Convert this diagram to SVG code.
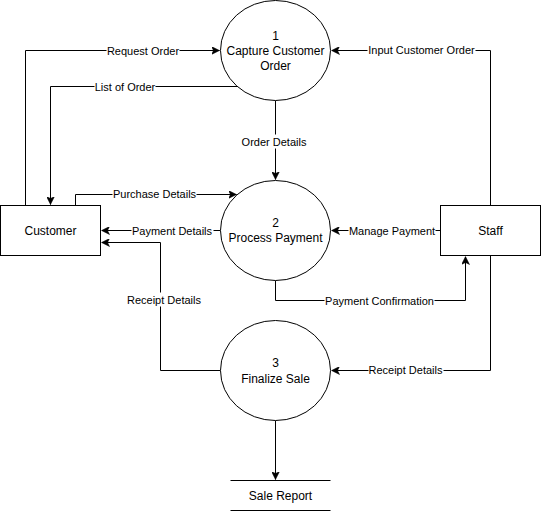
<svg xmlns="http://www.w3.org/2000/svg" width="541" height="511" viewBox="0 0 541 511">
<defs>
<style>
.shape{fill:#fff;stroke:#000;stroke-width:1}
.edge{fill:none;stroke:#000;stroke-width:1}
.nt{font-family:"Liberation Sans",Arial,sans-serif;font-size:12px;fill:#000;text-anchor:middle}
.et{font-family:"Liberation Sans",Arial,sans-serif;font-size:11px;fill:#000;text-anchor:middle}
.lb{fill:#fff;stroke:none}
</style>
<marker id="arr" markerUnits="userSpaceOnUse" viewBox="0 0 8 8" markerWidth="8" markerHeight="8" refX="8" refY="4" orient="auto">
<path d="M0,0 L8,4 L0,8 L2,4 z" fill="#000" stroke="#000" stroke-width="0.5"/>
</marker>
</defs>
<rect width="541" height="511" fill="#fff"/>
<g transform="translate(0.5,0.5)">
<g id="connectors">
<path class="edge" d="M25,205 L25,50 L219,50" marker-end="url(#arr)"/>
<path class="edge" d="M237,86 L50,86 L50,204" marker-end="url(#arr)"/>
<path class="edge" d="M75,205 L75,194 L236,194" marker-end="url(#arr)"/>
<path class="edge" d="M220,230 L101,230" marker-end="url(#arr)"/>
<path class="edge" d="M220,370 L160,370 L160,242 L101,242" marker-end="url(#arr)"/>
<path class="edge" d="M275,100 L275,179" marker-end="url(#arr)"/>
<path class="edge" d="M490,205 L490,50 L331,50" marker-end="url(#arr)"/>
<path class="edge" d="M440,230 L331,230" marker-end="url(#arr)"/>
<path class="edge" d="M275,280 L275,300 L465,300 L465,256" marker-end="url(#arr)"/>
<path class="edge" d="M490,255 L490,370 L331,370" marker-end="url(#arr)"/>
<path class="edge" d="M275,420 L275,479" marker-end="url(#arr)"/>
<g id="edge-labels">
<rect class="lb" x="106" y="43" width="73" height="14"/>
<text class="et" x="142.5" y="54.5">Request Order</text>
<rect class="lb" x="94" y="79" width="61" height="14"/>
<text class="et" x="124.5" y="90">List of Order</text>
<rect class="lb" x="112" y="187" width="84" height="14"/>
<text class="et" x="154" y="197.5">Purchase Details</text>
<rect class="lb" x="131" y="223" width="82" height="14"/>
<text class="et" x="171.5" y="234">Payment Details</text>
<rect class="lb" x="126" y="292" width="75" height="14"/>
<text class="et" x="163.5" y="303">Receipt Details</text>
<rect class="lb" x="241" y="134" width="66" height="14"/>
<text class="et" x="273.5" y="145">Order Details</text>
<rect class="lb" x="367" y="42" width="108" height="14"/>
<text class="et" x="421" y="53">Input Customer Order</text>
<rect class="lb" x="348" y="223" width="87" height="14"/>
<text class="et" x="391.5" y="234">Manage Payment</text>
<rect class="lb" x="324" y="293" width="110" height="14"/>
<text class="et" x="379" y="304">Payment Confirmation</text>
<rect class="lb" x="368" y="362" width="75" height="14"/>
<text class="et" x="405" y="373">Receipt Details</text>
</g>
</g>
<g id="customer">
<rect class="shape" x="0" y="205" width="100" height="50"/>
<text class="nt" x="50" y="234">Customer</text>
</g>
<g id="staff">
<rect class="shape" x="440" y="205" width="100" height="50"/>
<text class="nt" x="490" y="234">Staff</text>
</g>
<g id="p1">
<ellipse class="shape" cx="275" cy="50" rx="55" ry="50"/>
<text class="nt" x="275" y="39.5">1</text>
<text class="nt" x="275" y="54.5">Capture Customer</text>
<text class="nt" x="275" y="69.5">Order</text>
</g>
<g id="p2">
<ellipse class="shape" cx="275" cy="230" rx="55" ry="50"/>
<text class="nt" x="275" y="226">2</text>
<text class="nt" x="275" y="241.5">Process Payment</text>
</g>
<g id="p3">
<ellipse class="shape" cx="275" cy="370" rx="55" ry="50"/>
<text class="nt" x="275" y="366.5">3</text>
<text class="nt" x="275" y="382">Finalize Sale</text>
</g>
<g id="salereport">
<path class="edge" d="M230,480 L330,480 M230,510 L330,510"/>
<text class="nt" x="280" y="499">Sale Report</text>
</g>
</g>
</svg>
